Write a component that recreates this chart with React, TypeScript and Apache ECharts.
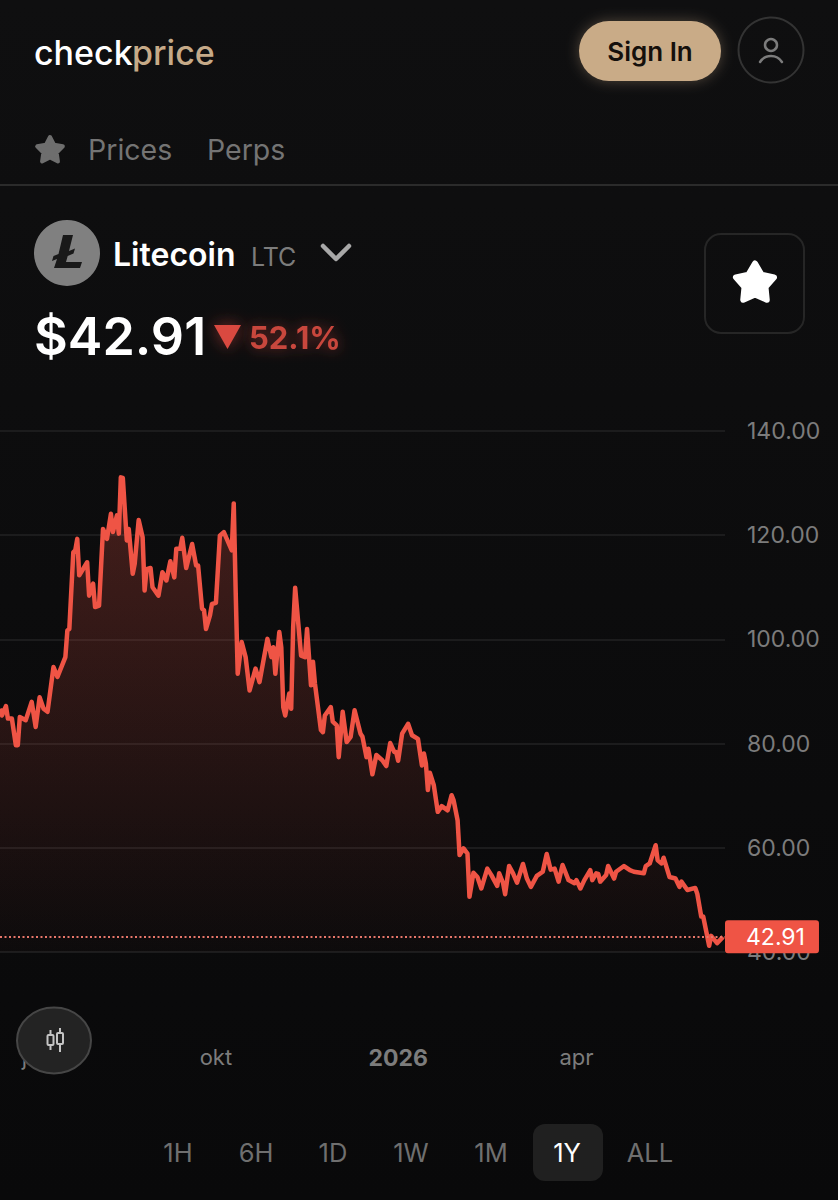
import React, { useEffect, useRef } from "react";
import * as echarts from "echarts";

const startDate = Date.UTC(2025, 5, 14);
const dayMs = 86400000;
const dayOffsets = [0,1,3,4,6,8,9,10,13,16,18,20,22,24,27,29,33,34,35,37,38,39,40,44,45,47,48,50,52,54,56,57,59,60,61,62,64,65,67,68,70,72,73,74,76,77,80,82,84,86,88,89,91,92,94,97,99,100,102,103,104,106,107,109,111,113,117,118,119,120,122,124,126,129,131,135,137,138,139,141,142,143,144,146,147,148,149,152,154,155,157,158,159,162,163,164,167,168,170,171,173,175,177,179,182,183,185,186,188,190,193,195,197,199,200,201,203,206,208,211,213,214,215,216,217,219,221,223,226,228,229,231,232,234,236,237,239,241,243,246,248,251,252,254,255,257,259,261,264,266,268,271,274,276,278,280,282,284,287,290,291,293,295,298,299,301,302,303,306,307,310,311,315,318,320,325,326,328,331,332,334,335,338,341,343,344,347,351,352,354,355,358,359,362,365];
const prices = [86.7,85.4,87.2,84.8,84.8,79.7,79.7,85.1,84.5,88.0,83.2,88.9,86.7,86.1,94.7,92.8,96.6,101.7,102.0,116.7,117.1,119.3,112.3,114.8,108.4,110.7,106.2,106.5,121.2,119.3,124.1,120.6,123.8,120.3,131.1,131.0,119.0,121.2,112.6,114.5,122.9,119.6,109.4,113.5,113.7,110.0,108.4,112.9,111.3,115.0,111.9,117.4,117.4,119.5,113.7,118.3,114.2,114.2,105.9,105.6,102.0,104.6,106.8,107.0,119.9,120.6,117.1,126.1,108.8,93.4,99.5,96.6,90.2,94.4,91.8,100.1,96.6,98.5,93.4,101.4,98.5,87.0,85.4,89.6,86.7,102.4,109.9,96.9,96.6,102.0,91.2,95.7,91.5,82.6,82.2,85.4,87.0,84.2,83.5,77.4,86.1,80.3,81.3,86.4,81.9,81.3,77.4,79.0,74.1,77.8,76.8,75.7,80.1,78.4,78.4,76.7,81.9,83.8,81.6,80.9,75.8,78.1,76.2,71.1,74.4,72.0,66.9,68.0,67.2,70.1,69.1,65.3,58.6,59.9,58.9,50.6,55.2,54.4,52.2,56.0,54.8,52.7,55.1,53.2,51.1,56.5,55.1,53.3,56.9,54.1,52.5,54.6,55.4,58.8,55.8,56.0,53.5,56.7,53.8,53.2,53.8,52.2,53.8,55.7,53.8,55.1,55.0,53.5,54.8,56.5,54.1,55.4,56.5,55.7,55.4,55.1,56.5,57.0,60.5,57.6,57.0,58.1,54.4,54.1,52.5,53.5,51.9,52.3,51.2,46.8,46.8,41.2,43.1,41.7,42.91];
const lastPrice = 42.91;
const monthTicks = [Date.UTC(2025, 6, 1), Date.UTC(2025, 9, 1), Date.UTC(2026, 0, 1), Date.UTC(2026, 3, 1)];
const monthLabels = ["jul", "okt", "{b|2026}", "apr"];
const rangeTabs = ["1H", "6H", "1D", "1W", "1M", "1Y", "ALL"];

const FONT = "Inter, 'Noto Sans', sans-serif";

function txt(x: number, y: number, text: string, fill: string, size: number, weight: number, align = "left", extra: any = {}) {
  return {
    type: "text", x, y, z: 100,
    style: { text, fill, fontSize: size, fontWeight: weight, fontFamily: FONT, align, verticalAlign: "middle", ...extra },
  };
}
function star(cx: number, cy: number, R: number, r: number) {
  const pts: number[][] = [];
  for (let i = 0; i < 10; i++) {
    const a = -Math.PI / 2 + (i * Math.PI) / 5;
    const rad = i % 2 === 0 ? R : r;
    pts.push([cx + rad * Math.cos(a), cy + rad * Math.sin(a)]);
  }
  return pts;
}

export default function App() {
  const ref = useRef<HTMLDivElement>(null);
  useEffect(() => {
    document.body.style.margin = "0";
    document.body.style.background = "#0b0b0c";
    const chart = echarts.init(ref.current!, undefined, { renderer: "svg" });
    const tabX = [178, 256, 333, 411, 491, 567, 650];
    const graphics: any[] = [
      txt(34, 52, "check", "#ffffff", 34, 500),
      txt(132, 52, "price", "#c6aa88", 34, 500),
      { type: "rect", z: 100, shape: { x: 579, y: 21, width: 142, height: 60, r: 30 }, style: { fill: "#c9ab87", shadowBlur: 14, shadowColor: "rgba(201,171,135,0.35)" } },
      txt(650, 51, "Sign In", "#15100c", 26, 600, "center"),
      { type: "circle", z: 100, shape: { cx: 771, cy: 50, r: 32.5 }, style: { fill: "none", stroke: "#333333", lineWidth: 2 } },
      { type: "circle", z: 100, shape: { cx: 771, cy: 45, r: 6 }, style: { fill: "none", stroke: "#7c7c7c", lineWidth: 2.5 } },
      { type: "arc", z: 100, shape: { cx: 771, cy: 69, r: 13, startAngle: Math.PI * 1.181, endAngle: Math.PI * 1.819 }, style: { fill: "none", stroke: "#7c7c7c", lineWidth: 2.5, lineCap: "round" } },
      { type: "polygon", z: 100, shape: { points: star(50, 150.5, 13.5, 7) }, style: { fill: "#6e6e6e", stroke: "#6e6e6e", lineWidth: 4, lineJoin: "round" } },
      txt(88, 149, "Prices", "#747474", 28.5, 400),
      txt(207, 149, "Perps", "#747474", 28.5, 400),
      { type: "line", z: 100, shape: { x1: 0, y1: 185, x2: 838, y2: 185 }, style: { stroke: "#2b2b2b", lineWidth: 2 } },
      { type: "circle", z: 100, shape: { cx: 67, cy: 253, r: 33 }, style: { fill: "#808080" } },
      { type: "polygon", z: 100, shape: { points: [[63, 235], [73, 235], [69, 251], [75, 248.5], [73.5, 253.5], [67.7, 256], [66, 262], [82, 262], [80, 268], [54, 268], [57, 259], [52, 261], [53.5, 256], [58.5, 254]] }, style: { fill: "#191919" } },
      txt(113, 254, "Litecoin", "#ffffff", 32, 600),
      txt(251, 257, "LTC", "#7c7c7c", 25, 400),
      { type: "polyline", z: 100, shape: { points: [[323, 246], [336, 259], [349, 246]] }, style: { fill: "none", stroke: "#a8a8a8", lineWidth: 4.5, lineCap: "round", lineJoin: "round" } },
      txt(34, 336, "$42.91", "#ffffff", 52, 600),
      { type: "polygon", z: 100, shape: { points: [[214, 325], [241, 325], [227.5, 349]] }, style: { fill: "#d94a40", shadowBlur: 16, shadowColor: "rgba(217,74,64,0.55)" } },
      txt(249, 337, "52.1%", "#c8463c", 31, 700, "left", { textShadowBlur: 14, textShadowColor: "rgba(217,74,64,0.55)" }),
      { type: "rect", z: 100, shape: { x: 705, y: 234, width: 99, height: 99, r: 16 }, style: { fill: "none", stroke: "#262626", lineWidth: 2 } },
      { type: "polygon", z: 100, shape: { points: star(755, 283.5, 20, 11) }, style: { fill: "#ffffff", stroke: "#ffffff", lineWidth: 6, lineJoin: "round" } },
      { type: "ellipse", z: 100, shape: { cx: 54, cy: 1040.5, rx: 37, ry: 33 }, style: { fill: "#232323", stroke: "#464646", lineWidth: 2 } },
      { type: "line", z: 101, shape: { x1: 50.5, y1: 1030, x2: 50.5, y2: 1050 }, style: { stroke: "#c4c4c4", lineWidth: 2 } },
      { type: "line", z: 101, shape: { x1: 60, y1: 1028, x2: 60, y2: 1052 }, style: { stroke: "#c4c4c4", lineWidth: 2 } },
      { type: "rect", z: 102, shape: { x: 47.5, y: 1035, width: 6, height: 10, r: 1 }, style: { fill: "#232323", stroke: "#c4c4c4", lineWidth: 2 } },
      { type: "rect", z: 102, shape: { x: 57, y: 1033, width: 6, height: 11, r: 1 }, style: { fill: "#232323", stroke: "#c4c4c4", lineWidth: 2 } },
      { type: "rect", z: 99, shape: { x: 533, y: 1124, width: 70, height: 57, r: 12 }, style: { fill: "#202020" } },
      ...rangeTabs.map((t, i) => txt(tabX[i], 1152, t, t === "1Y" ? "#ffffff" : "#6f6f6f", 25.5, 400, "center")),
    ];
    chart.setOption({
      animation: false,
      backgroundColor: new echarts.graphic.LinearGradient(0, 0, 0, 1, [
        { offset: 0, color: "#0f0f10" },
        { offset: 1, color: "#09090a" },
      ]),
      grid: { left: 0, top: 431, width: 725, height: 521 },
      xAxis: {
        type: "value",
        min: startDate,
        max: startDate + 366 * dayMs,
        axisLine: { show: false },
        axisTick: { show: false },
        splitLine: { show: false },
        axisLabel: {
          customValues: monthTicks,
          margin: 94,
          color: "#7c7c7c",
          fontSize: 22,
          fontFamily: FONT,
          hideOverlap: false,
          formatter: (v: number) => monthLabels[monthTicks.indexOf(v)] ?? "",
          rich: { b: { fontSize: 23, fontWeight: 700, color: "#7c7c7c", fontFamily: FONT } },
        },
      },
      yAxis: {
        type: "value",
        position: "right",
        min: 40,
        max: 140,
        interval: 20,
        axisLine: { show: false },
        axisTick: { show: false },
        splitLine: { lineStyle: { color: "#1c1c1d", width: 2 } },
        axisLabel: {
          margin: 22,
          color: "#7c7c7c",
          fontSize: 23,
          fontFamily: FONT,
          formatter: (v: number) => v.toFixed(2),
        },
      },
      series: [
        {
          type: "line",
          data: dayOffsets.map((d, i) => [startDate + d * dayMs, prices[i]]),
          symbol: "none",
          lineStyle: { color: "#ef5445", width: 4.5, join: "round" },
          areaStyle: {
            origin: "start",
            color: new echarts.graphic.LinearGradient(0, 0, 0, 1, [
              { offset: 0, color: "rgba(239,84,69,0.36)" },
              { offset: 1, color: "rgba(239,84,69,0.02)" },
            ]),
          },
          markLine: {
            silent: true,
            symbol: "none",
            animation: false,
            z: 20,
            lineStyle: { color: "#e8776a", type: [2, 2.5], width: 2 },
            data: [{ yAxis: lastPrice }],
            label: {
              position: "end",
              distance: 0,
              formatter: () => lastPrice.toFixed(2),
              color: "#ffffff",
              fontSize: 23,
              fontFamily: FONT,
              backgroundColor: "#ef5445",
              borderRadius: 3,
              padding: [5, 14, 5, 21],
            },
          },
        },
      ],
      graphic: { elements: graphics },
    });
    return () => chart.dispose();
  }, []);
  return <div ref={ref} style={{ width: 838, height: 1200, position: "absolute", left: 0, top: 0 }} />;
}
